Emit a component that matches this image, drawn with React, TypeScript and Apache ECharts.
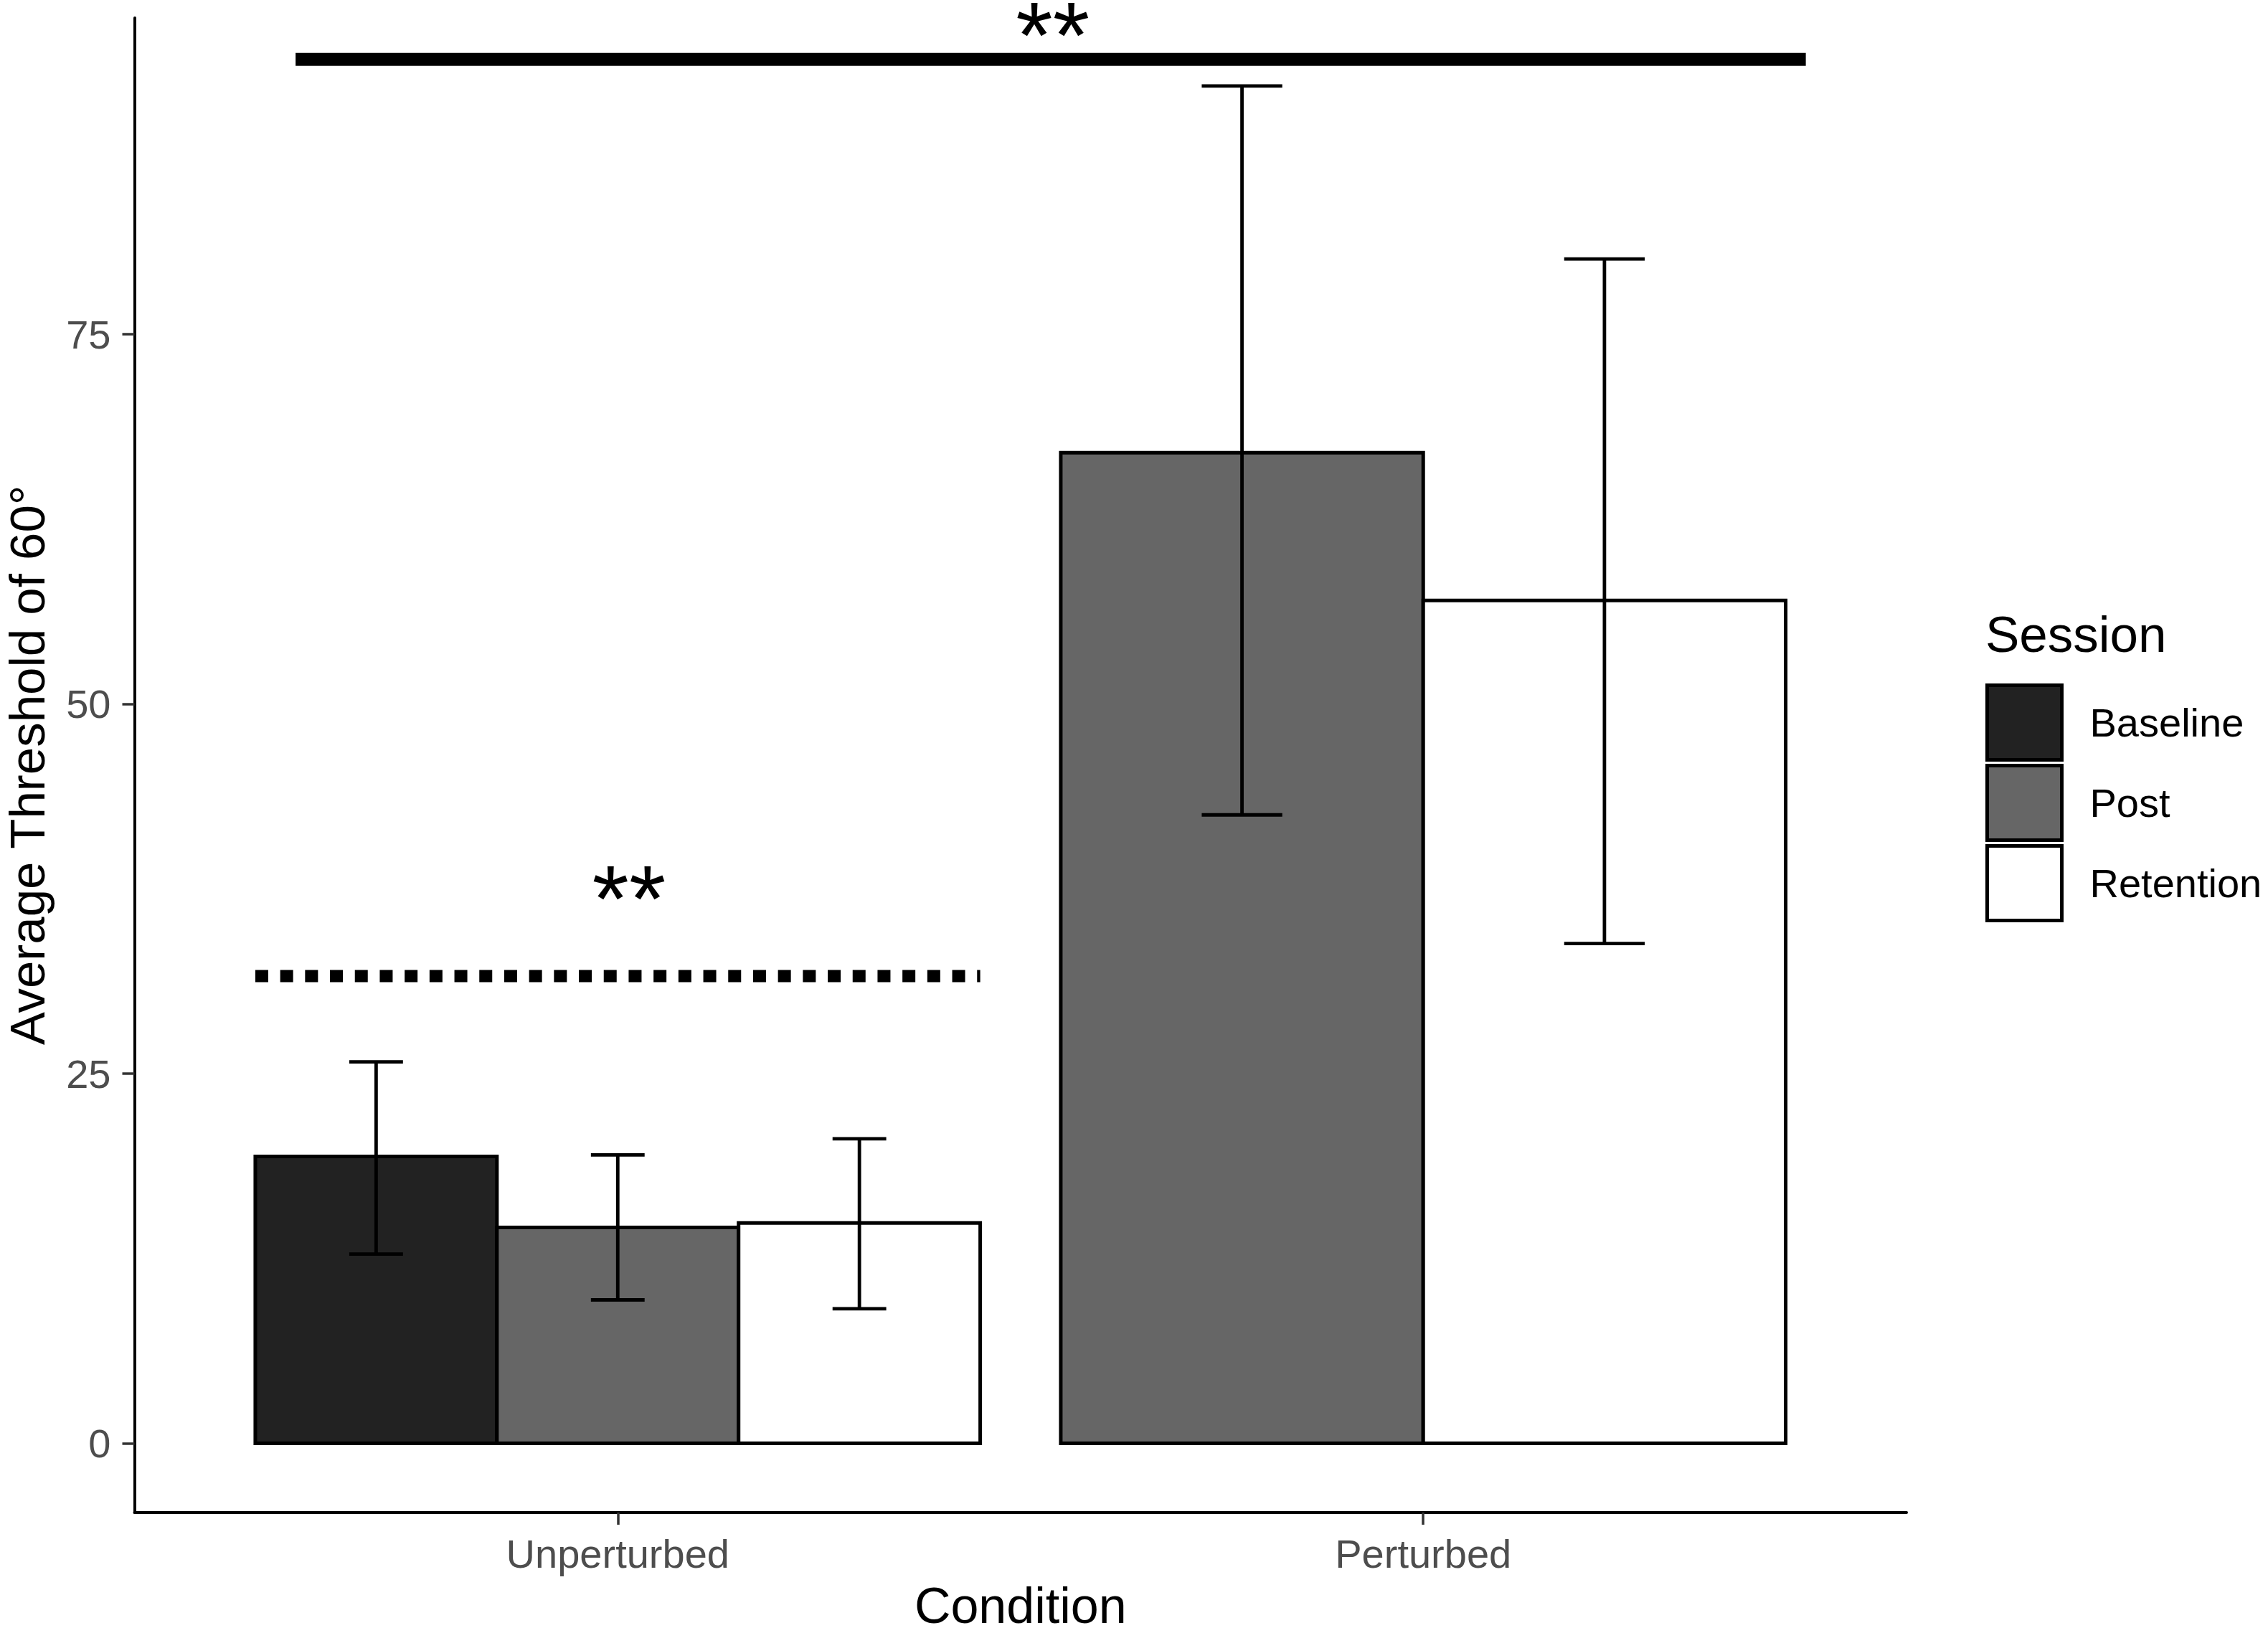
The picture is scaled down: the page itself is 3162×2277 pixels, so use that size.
import React, { useEffect, useRef } from "react";
import * as echarts from "echarts";

// ---- data ----
const conditions = ["Unperturbed", "Perturbed"];
const sessions = ["Baseline", "Post", "Retention"];
const sessionFill = ["#222222", "#666666", "#FFFFFF"];

// means per condition (null = not measured in that condition)
const baselineMean: (number | null)[] = [19.4, null];
const postMean: (number | null)[] = [14.6, 67.0];
const retentionMean: (number | null)[] = [14.9, 57.0];

const baselineLower: (number | null)[] = [12.8, null];
const baselineUpper: (number | null)[] = [25.8, null];
const postLower: (number | null)[] = [9.7, 42.5];
const postUpper: (number | null)[] = [19.5, 91.8];
const retentionLower: (number | null)[] = [9.1, 33.8];
const retentionUpper: (number | null)[] = [20.6, 80.1];

const yTicks = [0, 25, 50, 75];

// significance annotations
const sigStart = [0.6, 0.55];
const sigEnd = [2.475, 1.45];
const sigY = [93.6, 31.6];
const sigDashed = [0, 1];
const sigLabel = ["**", "**"];
const sigLabelX = [1.54, 1.014];
const sigLabelY = [96.2, 37.8];

const FONT = '"Liberation Sans", Arial, Helvetica, sans-serif';

const means = [baselineMean, postMean, retentionMean];
const lowers = [baselineLower, postLower, retentionLower];
const uppers = [baselineUpper, postUpper, retentionUpper];

// ggplot-like dodge (width 0.9, errorbar width 0.2)
function dodge(ci: number, si: number) {
  const present = sessions.map((_, s) => s).filter((s) => means[s][ci] != null);
  const n = present.length;
  const k = present.indexOf(si);
  const w = 0.9 / n;
  return { x: ci + 1 - 0.45 + (k + 0.5) * w, w, ew: 0.2 / n };
}

function buildOption(): any {
  const barSeries = sessions.map((name, si) => ({
    type: "custom",
    name,
    clip: false,
    itemStyle: { color: sessionFill[si], borderColor: "#000", borderWidth: 5 },
    encode: { x: 0, y: 1 },
    data: conditions
      .map((_, ci) => {
        const m = means[si][ci];
        if (m == null) return null;
        const d = dodge(ci, si);
        return [d.x, m, d.w];
      })
      .filter((v) => v != null),
    renderItem: (params: any, api: any) => {
      const x = api.value(0);
      const y = api.value(1);
      const w = api.value(2);
      const p1 = api.coord([x - w / 2, y]);
      const p2 = api.coord([x + w / 2, 0]);
      return {
        type: "rect",
        shape: { x: p1[0], y: p1[1], width: p2[0] - p1[0], height: p2[1] - p1[1] },
        style: { fill: sessionFill[si], stroke: "#000", lineWidth: 5 },
      };
    },
  }));

  const errData: number[][] = [];
  sessions.forEach((_, si) => {
    conditions.forEach((__, ci) => {
      const lo = lowers[si][ci];
      const hi = uppers[si][ci];
      if (lo == null || hi == null) return;
      const d = dodge(ci, si);
      errData.push([d.x, lo, hi, d.ew]);
    });
  });

  const errorSeries = {
    type: "custom",
    name: "error",
    clip: false,
    encode: { x: 0, y: [1, 2] },
    data: errData,
    renderItem: (params: any, api: any) => {
      const x = api.value(0);
      const lo = api.value(1);
      const hi = api.value(2);
      const ew = api.value(3);
      const pLo = api.coord([x, lo]);
      const pHi = api.coord([x, hi]);
      const half = api.coord([x + ew / 2, lo])[0] - pLo[0];
      const st = { stroke: "#000", lineWidth: 4.8 };
      return {
        type: "group",
        children: [
          { type: "line", shape: { x1: pLo[0], y1: pLo[1], x2: pHi[0], y2: pHi[1] }, style: st },
          { type: "line", shape: { x1: pHi[0] - half, y1: pHi[1], x2: pHi[0] + half, y2: pHi[1] }, style: st },
          { type: "line", shape: { x1: pLo[0] - half, y1: pLo[1], x2: pLo[0] + half, y2: pLo[1] }, style: st },
        ],
      };
    },
  };

  const sigLineSeries = {
    type: "custom",
    name: "sigLines",
    clip: false,
    encode: { x: [0, 1], y: 2 },
    data: sigStart.map((s, i) => [s, sigEnd[i], sigY[i], sigDashed[i]]),
    renderItem: (params: any, api: any) => {
      const a = api.coord([api.value(0), api.value(2)]);
      const b = api.coord([api.value(1), api.value(2)]);
      const dashed = api.value(3) === 1;
      return {
        type: "line",
        shape: { x1: a[0], y1: a[1], x2: b[0], y2: b[1] },
        style: dashed
          ? { stroke: "#000", lineWidth: 17, lineDash: [18, 16.7], lineCap: "butt" }
          : { stroke: "#000", lineWidth: 18, lineCap: "butt" },
      };
    },
  };

  const STAR = 132;
  const sigTextSeries = {
    type: "custom",
    name: "sigText",
    clip: false,
    encode: { x: 0, y: 1 },
    data: sigLabelX.map((x, i) => [x, sigLabelY[i], i]),
    renderItem: (params: any, api: any) => {
      const p = api.coord([api.value(0), api.value(1)]);
      const idx = api.value(2);
      return {
        type: "text",
        x: p[0],
        y: p[1] + 0.153 * STAR,
        style: {
          text: sigLabel[idx],
          fontFamily: FONT,
          fontSize: STAR,
          lineHeight: 40,
          fill: "#000",
          align: "center",
          verticalAlign: "middle",
        },
      };
    },
  };

  return {
    animation: false,
    backgroundColor: "#ffffff",
    grid: {
      left: 187.5,
      right: 504,
      top: 25,
      bottom: 168,
      containLabel: false,
      outerBoundsMode: "none",
    },
    xAxis: {
      type: "value",
      min: 0.4,
      max: 2.6,
      splitLine: { show: false },
      axisLine: { show: true, onZero: false, lineStyle: { color: "#000", width: 4 } },
      axisTick: { show: true, customValues: [1, 2], length: 17, lineStyle: { color: "#333333", width: 3.5 } },
      axisLabel: {
        show: true,
        customValues: [1, 2],
        formatter: (v: number) => conditions[Math.round(v) - 1] ?? "",
        margin: 29,
        fontSize: 56,
        fontFamily: FONT,
        color: "#4D4D4D",
      },
      name: "Condition",
      nameLocation: "middle",
      nameGap: 100,
      nameMoveOverlap: false,
      nameTextStyle: { fontSize: 70, lineHeight: 60, fontFamily: FONT, color: "#000" },
    },
    yAxis: {
      type: "value",
      min: -4.68,
      max: 96.4,
      splitLine: { show: false },
      axisLine: { show: true, onZero: false, lineStyle: { color: "#000", width: 4 } },
      axisTick: { show: true, customValues: yTicks, length: 17, lineStyle: { color: "#333333", width: 3.5 } },
      axisLabel: {
        show: true,
        customValues: yTicks,
        margin: 33,
        fontSize: 56,
        fontFamily: FONT,
        color: "#4D4D4D",
      },
      name: "Average Threshold of 60°",
      nameLocation: "middle",
      nameGap: 119,
      nameMoveOverlap: false,
      nameTextStyle: { fontSize: 69, lineHeight: 60, fontFamily: FONT, color: "#000" },
    },
    legend: {
      data: sessions,
      orient: "vertical",
      left: 2768,
      top: 953,
      padding: 0,
      itemWidth: 104,
      itemHeight: 104,
      itemGap: 3,
      icon: "rect",
      selectedMode: false,
      itemStyle: { borderColor: "#000", borderWidth: 5 },
      textStyle: { fontSize: 56, fontFamily: FONT, color: "#000", padding: [0, 0, 0, 34] },
    },
    graphic: [
      {
        type: "text",
        left: 2768,
        top: 849,
        style: { text: "Session", fontSize: 71, fontFamily: FONT, fill: "#000" },
      },
    ],
    series: [...barSeries, errorSeries, sigLineSeries, sigTextSeries],
  };
}

export default function App() {
  const ref = useRef<HTMLDivElement>(null);
  useEffect(() => {
    if (!ref.current) return;
    const chart = echarts.init(ref.current, undefined, { renderer: "svg" });
    chart.setOption(buildOption());
    return () => chart.dispose();
  }, []);
  return (
    <div
      ref={ref}
      style={{ position: "absolute", left: 0, top: 0, width: 3162, height: 2277, background: "#fff" }}
    />
  );
}
